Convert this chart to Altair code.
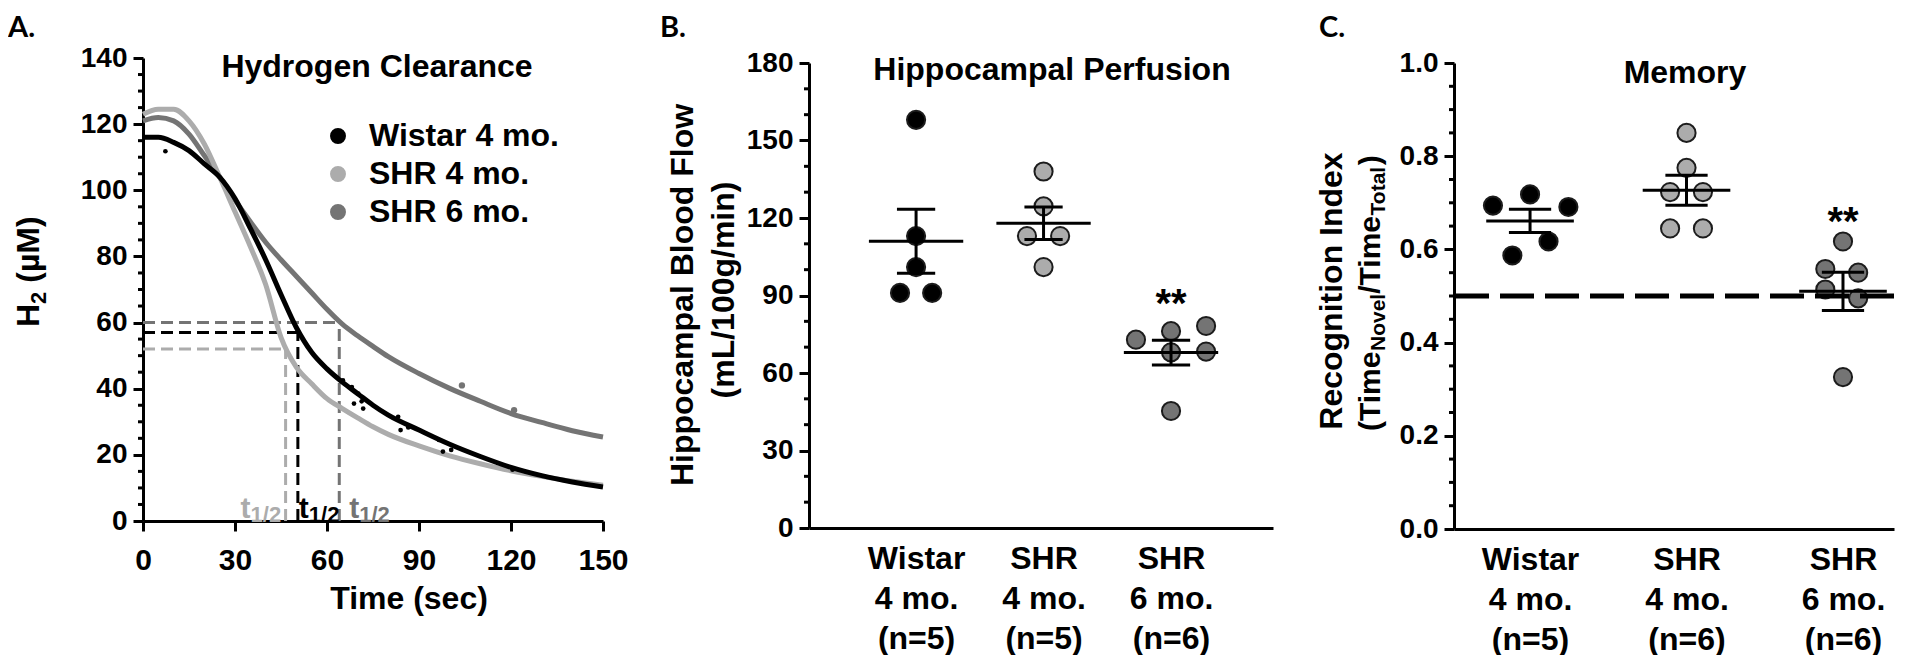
import json
import altair as alt
import pandas as pd

FONT = "Liberation Sans"
LETTER_FONT = "Lato"
INK = "#000000"

# ================= Panel A : hydrogen clearance =================
time_s = [0, 5, 10, 15, 20, 25, 30, 35, 40, 45, 50, 55, 60, 65, 70, 75, 80, 90, 100, 110, 120, 130, 140, 150]
h2_wistar4 = [116, 116, 114.5, 112, 108, 104, 97.5, 88.5, 79, 68.5, 58.5, 51, 46, 42, 38.5, 35, 32, 27.5, 23.2, 19.5, 16.2, 13.7, 11.8, 10.3]
h2_shr4 = [123, 124.5, 124.5, 121, 114, 104, 93.5, 83, 71.5, 55.5, 46.5, 41.5, 37, 34, 31.2, 28.5, 26.2, 22.7, 19.7, 17.3, 15.2, 13.5, 12, 10.8]
h2_shr6 = [121, 122, 121, 117, 110.5, 104, 97, 90.5, 84.3, 79, 74, 69, 64, 59.5, 56, 52.8, 49.7, 44.6, 40.1, 36.2, 32.5, 29.8, 27.3, 25.4]
series_names = ["Wistar 4 mo.", "SHR 4 mo.", "SHR 6 mo."]
series_colors = ["#000000", "#acacac", "#747474"]
t_half = [50.5, 46.5, 64.0]
h2_at_t_half = [57.0, 52.0, 60.0]
raw_t = [7.3, 65.2, 68.1, 70.2, 71.3, 68.8, 71.8, 83.2, 84.0, 86.5, 96.5, 97.8, 100.5, 120.5]
raw_h2 = [111.8, 42.5, 40.5, 38.5, 36.2, 35.5, 34.0, 31.5, 27.5, 28.3, 24.5, 21.0, 21.5, 15.5]
raw6_t = [104, 121]
raw6_h2 = [41, 33.5]

# ================= Panel B : hippocampal perfusion =================
group_names = ["Wistar", "SHR", "SHR"]
group_ages = ["4 mo.", "4 mo.", "6 mo."]
n_perf = [5, 5, 6]
perf_wistar4 = [158, 113, 101, 91, 91]
perf_shr4 = [138, 124.5, 113, 113, 101]
perf_shr6 = [72.9, 76.2, 78.2, 68.0, 68.3, 45.3]
perf_mean = [111.0, 118.0, 67.9]
perf_sem = [12.4, 6.3, 4.8]
jit_perf = [[0, 0, 0, -0.126, 0.126], [0, 0, -0.13, 0.13, 0], [-0.275, 0, 0.275, 0, 0.275, 0]]

# ================= Panel C : memory =================
n_mem = [5, 6, 6]
ri_wistar4 = [0.694, 0.718, 0.691, 0.617, 0.587]
ri_shr4 = [0.850, 0.775, 0.723, 0.723, 0.645, 0.645]
ri_shr6 = [0.617, 0.558, 0.550, 0.514, 0.495, 0.326]
ri_mean = [0.661, 0.727, 0.510]
ri_sem = [0.025, 0.032, 0.041]
jit_ri = [[-0.237, 0, 0.245, 0.118, -0.113], [0, 0, -0.105, 0.105, -0.105, 0.105], [0, -0.113, 0.097, -0.113, 0.097, 0]]
chance_level = [0.5]

cat_pos = [1, 2, 3]
dot_fill = ["#000000", "#d5d5d5", "#7b7b7b"]

# ---------- geometry ----------
A_W, A_H = 460, 463
B_W, B_H = 464, 465
C_W, C_H = 440, 466
A_XDOM, A_YDOM = [0, 150], [0, 140]
B_XDOM, B_YDOM = [0.16, 3.8], [0, 180]
C_XDOM, C_YDOM = [0.514, 3.326], [0, 1]

ARIAL_B = {"(": 333, ")": 333, "T": 611, "i": 278, "m": 889, "e": 556, "N": 722, "o": 611,
           "v": 556, "l": 278, "/": 278, "t": 333, "a": 556, "H": 722, "2": 556, " ": 278,
           "\u00b5": 611, "M": 833}


def tw(s, fs):
    return sum(ARIAL_B.get(ch, 556) for ch in s) * fs / 1000.0


def txt(s, x, y, size=32, color=INK, align="center", baseline="alphabetic", angle=0, font=FONT):
    return alt.Chart(pd.DataFrame({"s": [s]})).mark_text(
        font=font, fontSize=size, fontWeight="bold", color=color, align=align,
        baseline=baseline, angle=angle
    ).encode(x=alt.value(x), y=alt.value(y), text="s:N")


def rotated_runs(pieces, x_main, x_sub, y_start):
    """pieces: (text, size, is_subscript, gap_before_px); text reads bottom-to-top from y_start."""
    out, cur = [], y_start
    for piece, fs, sub, gap in pieces:
        cur -= gap
        out.append(txt(piece, x_sub if sub else x_main, cur, size=fs, align="left", angle=270))
        cur -= tw(piece, fs)
    return out


def y_axis(values, size=28, fmt=None):
    kw = dict(values=values, title=None, grid=False, domainColor=INK, domainWidth=3,
              tickColor=INK, tickWidth=3, tickSize=10, labelFont=FONT, labelFontSize=size,
              labelFontWeight="bold", labelColor=INK, labelPadding=6)
    if fmt:
        kw["format"] = fmt
    return alt.Axis(**kw)


def cat_axis(ns):
    lines = [[g, a, f"(n={n})"] for g, a, n in zip(group_names, group_ages, ns)]
    expr = json.dumps(lines[-1])
    for i in range(len(lines) - 2, -1, -1):
        expr = f"datum.value == {cat_pos[i]} ? {json.dumps(lines[i])} : " + expr
    return alt.Axis(values=cat_pos, labelExpr=expr, ticks=False, tickSize=0, title=None, grid=False,
                    domainColor=INK, domainWidth=3, labelFont=FONT, labelFontSize=32,
                    labelFontWeight="bold", labelColor=INK, labelLineHeight=40,
                    labelPadding=15, labelBaseline="top", labelFlush=False, labelOverlap=False)


def minor_ticks(values, ys, ya):
    return alt.Chart(pd.DataFrame({"v": values})).mark_rule(color=INK, strokeWidth=3).encode(
        y=alt.Y("v:Q", scale=ys, axis=ya, title=None), x=alt.value(0), x2=alt.value(-5))


# ================= build panel A =================
xsA = alt.Scale(domain=A_XDOM, nice=False, zero=False)
ysA = alt.Scale(domain=A_YDOM, nice=False)
xaA = alt.Axis(values=[0, 30, 60, 90, 120, 150], title=None, grid=False, domainColor=INK, domainWidth=3,
               tickColor=INK, tickWidth=3, tickSize=10, labelFont=FONT, labelFontSize=30,
               labelFontWeight="bold", labelColor=INK, labelPadding=14, labelFlush=False)
yaA = y_axis([0, 20, 40, 60, 80, 100, 120, 140], size=28)


def XA(f):
    return alt.X(f, scale=xsA, axis=xaA, title=None)


def YA(f):
    return alt.Y(f, scale=ysA, axis=yaA, title=None)


half_df = pd.DataFrame({"series": series_names, "t": t_half, "c": h2_at_t_half,
                        "x0": [A_XDOM[0]] * 3, "y0": [A_YDOM[0]] * 3})
color_scale = alt.Scale(domain=series_names, range=series_colors)

layers_a = []
# dashed t1/2 guides, one layer per series so the only colour scale is the legend's
for i in range(3):
    d = half_df.iloc[[i]]
    layers_a.append(alt.Chart(d).mark_rule(strokeWidth=3, strokeDash=[12, 6], color=series_colors[i])
                    .encode(x=XA("x0:Q"), x2="t:Q", y=YA("c:Q")))
    layers_a.append(alt.Chart(d).mark_rule(strokeWidth=3, strokeDash=[12, 6], color=series_colors[i])
                    .encode(x=XA("t:Q"), y=YA("y0:Q"), y2="c:Q"))
# curves, drawn SHR 6 -> SHR 4 -> Wistar
curves = {series_names[0]: h2_wistar4, series_names[1]: h2_shr4, series_names[2]: h2_shr6}
for idx in [2, 1, 0]:
    d = pd.DataFrame({"t": time_s, "h2": curves[series_names[idx]]})
    layers_a.append(alt.Chart(d).mark_line(color=series_colors[idx], strokeWidth=5, interpolate="monotone")
                    .encode(x=XA("t:Q"), y=YA("h2:Q")))
layers_a.append(alt.Chart(pd.DataFrame({"t": raw6_t, "h2": raw6_h2})).mark_circle(
    color=series_colors[2], size=40, opacity=1).encode(x=XA("t:Q"), y=YA("h2:Q")))
layers_a.append(alt.Chart(pd.DataFrame({"t": raw_t, "h2": raw_h2})).mark_circle(
    color=INK, size=22, opacity=1).encode(x=XA("t:Q"), y=YA("h2:Q")))
# legend carrier (invisible points)
leg_df = pd.DataFrame({"series": series_names, "t": t_half, "c": h2_at_t_half})
layers_a.append(alt.Chart(leg_df).mark_circle(opacity=0).encode(
    x=XA("t:Q"), y=YA("c:Q"),
    fill=alt.Fill("series:N", scale=color_scale, legend=alt.Legend(
        title=None, orient="none", legendX=179, legendY=62, symbolType="circle", symbolSize=254,
        symbolStrokeWidth=0, symbolOpacity=1, labelFont=FONT, labelFontSize=32, labelFontWeight="bold",
        labelColor=INK, labelOffset=15, labelLimit=0, rowPadding=6, padding=0))))
# t1/2 labels
t_dx = [1, -45, 10]
for i in range(3):
    d = half_df.iloc[[i]]
    layers_a.append(alt.Chart(d).mark_text(text="t", font=FONT, fontSize=30, fontWeight="bold",
                                           color=series_colors[i], align="left", dx=t_dx[i], dy=-12)
                    .encode(x=XA("t:Q"), y=YA("y0:Q")))
    layers_a.append(alt.Chart(d).mark_text(text="1/2", font=FONT, fontSize=22, fontWeight="bold",
                                           color=series_colors[i], align="left", dx=t_dx[i] + 10, dy=-6)
                    .encode(x=XA("t:Q"), y=YA("y0:Q")))
layers_a.append(minor_ticks([v for v in range(0, 141, 5) if v % 20], ysA, yaA))
layers_a += [
    txt("Hydrogen Clearance", 234, 19),
    txt("Time (sec)", 266, 551),
    txt("A.", -135, -21, size=29, align="left", font=LETTER_FONT),
]
layers_a += rotated_runs([("H", 32, False, 0), ("2", 22, True, 0), ("(\u00b5M)", 32, False, tw(" ", 32))],
                         -104, -97, 269)
panel_a = alt.layer(*layers_a).properties(width=A_W, height=A_H)


# ================= build dot-plot panels =================
def dot_panel(vals_list, jit_list, means, sems, xdom, ydom, yvals, minor, yfmt,
              ns, mean_hw, cap_hw, extra):
    xs = alt.Scale(domain=xdom, nice=False, zero=False)
    ys = alt.Scale(domain=ydom, nice=False)
    xa = cat_axis(ns)
    ya = y_axis(yvals, size=28, fmt=yfmt)

    def X(f):
        return alt.X(f, scale=xs, axis=xa, title=None)

    def Y(f):
        return alt.Y(f, scale=ys, axis=ya, title=None)

    rows = []
    for i, (vals, jit) in enumerate(zip(vals_list, jit_list)):
        for v, j in zip(vals, jit):
            rows.append({"x": cat_pos[i] + j, "y": v, "g": series_names[i]})
    pts = pd.DataFrame(rows)
    st = pd.DataFrame({"x": cat_pos, "m": means, "s": sems})
    st["lo"] = st["m"] - st["s"]
    st["hi"] = st["m"] + st["s"]
    st["xm0"] = st["x"] - mean_hw
    st["xm1"] = st["x"] + mean_hw
    st["xc0"] = st["x"] - cap_hw
    st["xc1"] = st["x"] + cap_hw

    layers = [
        minor_ticks(minor, ys, ya),
        alt.Chart(pts).mark_circle(size=330, opacity=1, stroke="#1c1c1c", strokeWidth=2).encode(
            x=X("x:Q"), y=Y("y:Q"),
            fill=alt.Fill("g:N", scale=alt.Scale(domain=series_names, range=dot_fill), legend=None)),
        alt.Chart(st).mark_rule(color=INK, strokeWidth=3).encode(x=X("xm0:Q"), x2="xm1:Q", y=Y("m:Q")),
        alt.Chart(st).mark_rule(color=INK, strokeWidth=3).encode(x=X("x:Q"), y=Y("lo:Q"), y2="hi:Q"),
        alt.Chart(st).mark_rule(color=INK, strokeWidth=3).encode(x=X("xc0:Q"), x2="xc1:Q", y=Y("lo:Q")),
        alt.Chart(st).mark_rule(color=INK, strokeWidth=3).encode(x=X("xc0:Q"), x2="xc1:Q", y=Y("hi:Q")),
    ]
    layers += extra(X, Y)
    return layers


def extra_b(X, Y):
    return [
        alt.Chart(pd.DataFrame({"x": [cat_pos[2]], "y": [86.5], "s": ["**"]})).mark_text(
            font=FONT, fontSize=40, fontWeight="bold", color=INK).encode(x=X("x:Q"), y=Y("y:Q"), text="s:N"),
    ]


def extra_c(X, Y):
    return [
        alt.Chart(pd.DataFrame({"v": chance_level})).mark_rule(color=INK, strokeWidth=5, strokeDash=[34, 11])
        .encode(y=Y("v:Q")),
        alt.Chart(pd.DataFrame({"x": [cat_pos[2]], "y": [0.657], "s": ["**"]})).mark_text(
            font=FONT, fontSize=40, fontWeight="bold", color=INK).encode(x=X("x:Q"), y=Y("y:Q"), text="s:N"),
    ]


layers_b = dot_panel([perf_wistar4, perf_shr4, perf_shr6], jit_perf, perf_mean, perf_sem,
                     B_XDOM, B_YDOM, [0, 30, 60, 90, 120, 150, 180],
                     [v for v in range(0, 181, 10) if v % 30], None, n_perf, 0.37, 0.15, extra_b)
layers_b += [
    txt("Hippocampal Perfusion", 243, 17),
    txt("Hippocampal Blood  Flow", -116, 232, angle=270),
    txt("(mL/100g/min)", -75, 227, angle=270),
    txt("B.", -149, -26, size=29, align="left", font=LETTER_FONT),
]
panel_b = alt.layer(*layers_b).properties(width=B_W, height=B_H)

layers_c = dot_panel([ri_wistar4, ri_shr4, ri_shr6], jit_ri, ri_mean, ri_sem,
                     C_XDOM, C_YDOM, [0, 0.2, 0.4, 0.6, 0.8, 1.0],
                     [k / 20 for k in range(0, 21) if k % 4], ".1f", n_mem, 0.28, 0.135, extra_c)
layers_c += [txt("Recognition Index", -112, 228, angle=270)]
layers_c += rotated_runs([("(Time", 30, False, 0), ("Novel", 21, True, 0), ("/Time", 30, False, 0),
                          ("Total", 21, True, 0), (")", 30, False, 0)], -74, -69, 368.0)
layers_c += [
    txt("Memory", 231, 20),
    txt("C.", -135, -26, size=29, align="left", font=LETTER_FONT),
]
panel_c = alt.layer(*layers_c).properties(width=C_W, height=C_H)

spacer = alt.Chart(pd.DataFrame({"s": [0]})).mark_point(opacity=0).encode(
    x=alt.value(0), y=alt.value(0)).properties(width=1, height=1)

bc = alt.hconcat(panel_b, panel_c, spacing=181, bounds="flush")
right = alt.vconcat(spacer, bc, spacing=4, bounds="flush")
chart = alt.hconcat(panel_a, right, spacing=206, bounds="flush").properties(
    padding={"left": 0, "top": 6, "right": 4, "bottom": 0}, background="white"
).configure_view(stroke=None)

chart.save("out.html", embed_options={"renderer": "svg", "actions": False})
